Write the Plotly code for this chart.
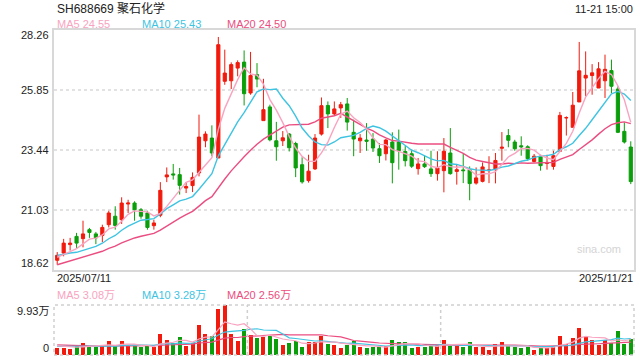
import plotly.graph_objects as go
import pandas as pd

title_text = "SH688669 聚石化学"
time_text = "11-21 15:00"
start_label = "2025/07/11"
end_label = "2025/11/21"
price_ticks = [28.26, 25.85, 23.44, 21.03, 18.62]
vol_max = 9.93

open_ = [19.01, 19.30, 19.64, 19.97, 19.88, 20.24, 20.07, 20.01, 20.44, 20.78,
         20.64, 21.27, 21.31, 21.04, 20.91, 20.40, 20.82, 22.36, 22.48, 22.45,
         21.91, 22.01, 22.52, 23.81, 23.92, 23.12, 26.20, 26.22, 26.73, 26.97,
         25.73, 26.47, 24.62, 25.17, 23.81, 23.81, 24.08, 23.70, 22.85, 22.21,
         22.68, 24.08, 25.23, 24.89, 25.13, 25.29, 24.15, 23.81, 23.84, 23.88,
         23.49, 23.29, 23.76, 23.76, 23.38, 23.29, 22.69, 22.88, 22.68, 22.49,
         22.61, 23.32, 22.58, 22.64, 22.65, 22.11, 22.18, 22.61, 22.65, 23.51,
         24.02, 23.76, 23.61, 23.57, 22.98, 23.19, 22.90, 22.78, 23.39, 24.73,
         24.35, 25.37, 26.33, 26.43, 25.93, 26.22, 26.63, 25.89, 24.19, 23.56]
high = [19.34, 19.87, 19.91, 20.11, 20.60, 20.31, 20.15, 20.44, 21.00, 21.18,
        21.54, 21.44, 21.38, 21.11, 21.00, 20.64, 22.15, 22.74, 22.88, 22.72,
        22.15, 22.54, 24.86, 24.19, 24.43, 27.98, 27.47, 26.96, 27.04, 27.44,
        27.38, 26.93, 26.30, 25.26, 24.57, 24.20, 24.12, 23.77, 23.15, 23.25,
        24.08, 25.55, 25.39, 25.39, 25.37, 25.53, 24.66, 24.08, 24.52, 24.12,
        23.72, 23.88, 24.15, 24.26, 23.60, 23.46, 23.12, 23.23, 23.41, 23.39,
        23.92, 24.32, 22.88, 23.29, 22.78, 22.74, 22.94, 23.19, 23.32, 24.16,
        24.28, 23.85, 23.99, 23.63, 23.28, 23.25, 23.25, 23.41, 24.97, 24.79,
        25.77, 27.78, 27.40, 26.89, 26.97, 27.27, 27.07, 26.00, 24.55, 23.79]
low = [18.83, 19.17, 19.40, 19.50, 19.53, 19.91, 19.66, 19.74, 20.33, 20.24,
       20.47, 20.91, 20.60, 20.68, 20.24, 20.24, 20.74, 22.15, 22.25, 21.65,
       21.71, 21.75, 22.38, 23.55, 23.19, 23.12, 26.06, 25.89, 26.40, 25.23,
       25.66, 25.96, 24.62, 23.79, 23.01, 23.60, 23.38, 22.35, 22.09, 22.13,
       22.64, 24.02, 24.32, 24.83, 24.73, 24.22, 23.19, 23.32, 23.41, 23.36,
       22.92, 23.02, 22.10, 22.65, 22.78, 22.72, 22.45, 22.72, 22.36, 22.21,
       21.74, 22.45, 22.05, 22.11, 21.42, 22.05, 22.14, 22.11, 22.10, 23.01,
       23.55, 23.41, 23.21, 23.01, 22.94, 22.61, 22.65, 22.65, 23.36, 24.02,
       24.35, 25.37, 25.60, 25.66, 25.93, 25.53, 25.73, 24.12, 23.70, 22.07]
close = [19.21, 19.70, 19.70, 19.70, 20.07, 20.13, 19.91, 20.33, 20.91, 20.41,
         21.31, 21.31, 21.04, 20.78, 20.33, 20.51, 21.82, 22.44, 22.44, 22.02,
         21.97, 22.34, 23.96, 24.08, 23.32, 27.67, 26.53, 26.87, 26.95, 25.70,
         26.43, 26.29, 25.06, 23.85, 23.57, 23.93, 23.53, 22.72, 22.16, 22.59,
         23.92, 25.22, 24.89, 25.09, 25.26, 24.56, 23.88, 23.92, 23.79, 23.52,
         23.21, 23.84, 22.93, 23.41, 23.01, 22.79, 22.88, 22.77, 22.49, 22.72,
         23.39, 22.49, 22.65, 22.61, 22.09, 22.32, 22.76, 22.64, 23.02, 23.55,
         23.83, 23.49, 23.57, 23.09, 23.19, 22.81, 22.94, 23.21, 24.83, 24.74,
         25.24, 26.62, 26.44, 26.54, 26.70, 26.68, 26.00, 24.15, 23.76, 22.17]
# volume in 万 (10k shares)
volume = [1.40, 1.32, 1.25, 1.82, 2.32, 1.72, 1.65, 1.72, 2.72, 1.82,
          2.72, 1.75, 1.72, 1.60, 1.72, 1.60, 4.13, 2.90, 2.32, 3.50,
          1.75, 2.32, 5.96, 4.13, 3.70, 9.10, 9.93, 4.13, 2.80, 5.13,
          3.90, 3.30, 3.50, 3.97, 3.10, 1.99, 2.32, 2.78, 1.52, 2.65,
          2.65, 3.70, 2.15, 1.92, 1.40, 1.92, 2.72, 1.55, 1.40, 1.55,
          1.55, 1.72, 2.92, 2.55, 2.55, 1.40, 1.60, 1.60, 1.85, 2.05,
          2.98, 1.80, 1.80, 1.60, 2.55, 1.60, 1.60, 0.99, 2.15, 2.55,
          1.79, 1.62, 1.46, 1.66, 0.99, 1.46, 1.46, 1.85, 3.87, 2.20,
          3.44, 5.35, 3.64, 2.98, 1.99, 2.98, 2.32, 4.69, 2.18, 3.23]
# closes / volumes before the visible window (estimated from where the MA lines start)
prior_close = [18.20, 18.30, 18.25, 18.40, 18.50, 18.45, 18.60, 18.55, 18.70, 18.65,
               19.10, 19.30, 19.40, 19.30, 19.25, 19.20, 19.05, 19.10, 19.10]
prior_volume = [2.6, 2.1, 2.4, 2.2, 2.5, 2.0, 2.3, 2.4, 2.2, 2.3,
                1.5, 1.7, 1.6, 1.5, 1.7, 2.0, 1.8, 1.9, 1.9]

RED = "#f11a0c"
GREEN = "#0b9e0b"
C_MA5 = "#f9a3c0"
C_MA10 = "#3ec4e2"
C_MA20 = "#eb4d80"
FONT = "Liberation Sans, Arial, Noto Sans CJK SC, sans-serif"

n = len(close)
x = list(range(n))
npc = len(prior_close)
cs = pd.Series(prior_close + close)
vs = pd.Series(prior_volume + volume)
ma = {k: cs.rolling(k).mean().iloc[npc:].tolist() for k in (5, 10, 20)}
vma = {k: vs.rolling(k).mean().iloc[npc:].tolist() for k in (5, 10, 20)}
vcol = [RED if c >= o else GREEN for o, c in zip(open_, close)]

fig = go.Figure()
fig.add_trace(go.Candlestick(
    x=x, open=open_, high=high, low=low, close=close,
    increasing=dict(line=dict(color=RED, width=1), fillcolor=RED),
    decreasing=dict(line=dict(color=GREEN, width=1), fillcolor=GREEN),
    xaxis="x", yaxis="y", showlegend=False, hoverinfo="skip"))
for k, col in ((20, C_MA20), (10, C_MA10), (5, C_MA5)):
    fig.add_trace(go.Scatter(x=x, y=ma[k], mode="lines", line=dict(color=col, width=1.4),
                             xaxis="x", yaxis="y", showlegend=False, hoverinfo="skip"))
fig.add_trace(go.Bar(x=x, y=volume, marker=dict(color=vcol, line=dict(width=0)), width=0.62,
                     xaxis="x2", yaxis="y2", showlegend=False, hoverinfo="skip"))
for k, col in ((20, C_MA20), (10, C_MA10), (5, C_MA5)):
    fig.add_trace(go.Scatter(x=x, y=vma[k], mode="lines", line=dict(color=col, width=1.2),
                             xaxis="x2", yaxis="y2", showlegend=False, hoverinfo="skip"))

xd = [54 / 640, 634 / 640]
fig.update_layout(
    width=640, height=360, margin=dict(l=0, r=0, t=0, b=0),
    paper_bgcolor="white", plot_bgcolor="white",
    font=dict(family=FONT, size=11, color="#222"),
    xaxis=dict(domain=xd, range=[-0.5, n - 0.5], showticklabels=False, showgrid=False,
               zeroline=False, showline=True, mirror=True, linecolor="#d8d8d8", linewidth=2,
               rangeslider=dict(visible=False), anchor="y", ticks=""),
    yaxis=dict(domain=[1 - 270 / 360, 1 - 30 / 360], range=[price_ticks[-1], price_ticks[0]],
               tickvals=price_ticks[1:4], showticklabels=False, showgrid=True,
               gridcolor="#e2e2e2", griddash="dot", gridwidth=2, zeroline=False,
               showline=True, mirror=True, linecolor="#d8d8d8", linewidth=2, anchor="x"),
    xaxis2=dict(domain=xd, range=[-0.5, n - 0.5], showticklabels=False, showgrid=False,
                zeroline=False, anchor="y2"),
    yaxis2=dict(domain=[1 - 355 / 360, 1 - 305 / 360], range=[0, vol_max],
                showticklabels=False, showgrid=False, zeroline=False, anchor="x2"),
    bargap=0,
)

dot = dict(color="#cfcfcf", width=1.5, dash="dot")
shapes = [
    dict(type="rect", xref="x2 domain", yref="y2 domain", x0=0, x1=1, y0=0, y1=1, line=dot),
    dict(type="line", xref="x2", yref="y2 domain", x0=n / 3 - 0.5, x1=n / 3 - 0.5, y0=0, y1=1, line=dot),
    dict(type="line", xref="x2", yref="y2 domain", x0=2 * n / 3 - 0.5, x1=2 * n / 3 - 0.5, y0=0, y1=1, line=dot),
]
fig.update_layout(shapes=shapes)

ann = []
ann.append(dict(text=title_text, xref="paper", yref="paper", x=55 / 640, y=1 - 8 / 360,
                xanchor="left", yanchor="middle", showarrow=False,
                font=dict(size=12, color="#222")))
ann.append(dict(text=time_text, xref="paper", yref="paper", x=635 / 640, y=1 - 9 / 360,
                xanchor="right", yanchor="middle", showarrow=False,
                font=dict(size=11, color="#222")))
legend_main = [("MA5 %.2f" % ma[5][-1], C_MA5, 55), ("MA10 %.2f" % ma[10][-1], C_MA10, 140),
               ("MA20 %.2f" % ma[20][-1], C_MA20, 225)]
for t, col, px in legend_main:
    ann.append(dict(text=t, xref="paper", yref="paper", x=px / 640, y=1 - 24 / 360,
                    xanchor="left", yanchor="middle", showarrow=False,
                    font=dict(size=11, color=col)))
legend_vol = [("MA5 %.2f万" % vma[5][-1], C_MA5, 55), ("MA10 %.2f万" % vma[10][-1], C_MA10, 140),
              ("MA20 %.2f万" % vma[20][-1], C_MA20, 225)]
for t, col, px in legend_vol:
    ann.append(dict(text=t, xref="paper", yref="paper", x=px / 640, y=1 - 295 / 360,
                    xanchor="left", yanchor="middle", showarrow=False,
                    font=dict(size=11, color=col)))
for i, v in enumerate(price_ticks):
    shift = -5 if i == 0 else (7 if i == len(price_ticks) - 1 else 0)
    ann.append(dict(text="%.2f" % v, xref="paper", yref="y", x=51 / 640, y=v, yshift=shift,
                    xanchor="right", yanchor="middle", showarrow=False,
                    font=dict(size=11, color="#222")))
ann.append(dict(text="%.2f万" % vol_max, xref="paper", yref="y2", x=51 / 640, y=vol_max, yshift=-6,
                xanchor="right", yanchor="middle", showarrow=False, font=dict(size=11, color="#222")))
ann.append(dict(text="0", xref="paper", yref="y2", x=51 / 640, y=0, yshift=7,
                xanchor="right", yanchor="middle", showarrow=False, font=dict(size=11, color="#222")))
ann.append(dict(text=start_label, xref="paper", yref="paper", x=55 / 640, y=1 - 278 / 360,
                xanchor="left", yanchor="middle", showarrow=False, font=dict(size=11, color="#222")))
ann.append(dict(text=end_label, xref="paper", yref="paper", x=635 / 640, y=1 - 278 / 360,
                xanchor="right", yanchor="middle", showarrow=False, font=dict(size=11, color="#222")))
ann.append(dict(text="sina.com", xref="paper", yref="paper", x=623 / 640, y=1 - 249 / 360,
                xanchor="right", yanchor="middle", showarrow=False, font=dict(size=11, color="#d4d4d4")))
fig.update_layout(annotations=ann)

fig.write_html("out.html", config={"displayModeBar": False},
               post_script="document.body.style.margin='0';document.body.style.overflow='hidden';")
